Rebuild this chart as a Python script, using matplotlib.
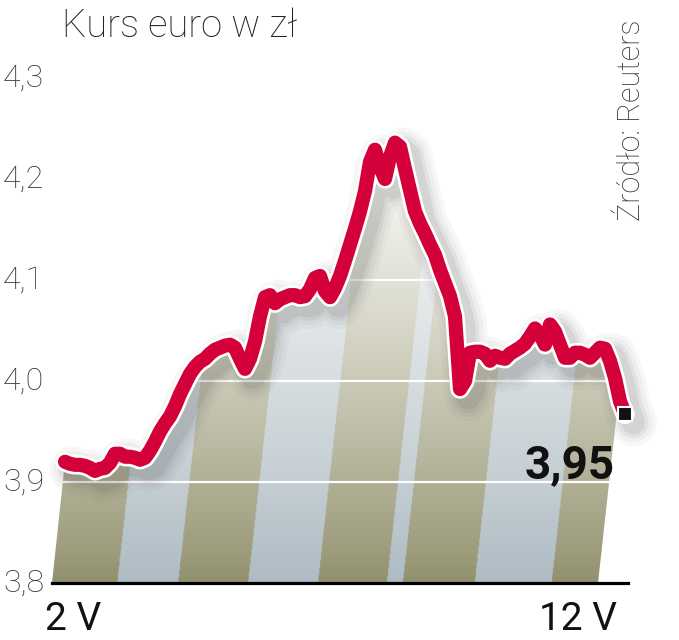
import numpy as np
import matplotlib
matplotlib.use("Agg")
import matplotlib.pyplot as plt
import matplotlib.patheffects as pe
import matplotlib.transforms as mtransforms
from matplotlib.patches import Polygon

# dane: kurs EUR/PLN, kolejne notowania od 2 V do 12 V
kurs = [3.920, 3.918, 3.917, 3.917, 3.916, 3.914, 3.911, 3.913, 3.914, 3.919,
        3.928, 3.928, 3.925, 3.925, 3.924, 3.922, 3.924, 3.931, 3.940, 3.950,
        3.958, 3.965, 3.975, 3.987, 3.997, 4.007, 4.014, 4.019, 4.022, 4.027,
        4.031, 4.033, 4.035, 4.036, 4.033, 4.022, 4.012, 4.022, 4.039, 4.064,
        4.083, 4.085, 4.077, 4.081, 4.083, 4.085, 4.085, 4.083, 4.084, 4.091,
        4.102, 4.104, 4.089, 4.083, 4.092, 4.104, 4.119, 4.135, 4.151, 4.168,
        4.188, 4.217, 4.229, 4.212, 4.200, 4.222, 4.236, 4.232, 4.210, 4.189,
        4.168, 4.156, 4.146, 4.135, 4.125, 4.110, 4.097, 4.084, 4.064, 3.992,
        4.000, 4.028, 4.029, 4.029, 4.027, 4.020, 4.025, 4.023, 4.022, 4.027,
        4.030, 4.033, 4.037, 4.044, 4.052, 4.046, 4.036, 4.056, 4.049, 4.036,
        4.023, 4.023, 4.028, 4.028, 4.026, 4.023, 4.028, 4.033, 4.032, 4.020,
        4.003, 3.980, 3.967]
ostatni = "3,95"
y_ticks = [3.8, 3.9, 4.0, 4.1, 4.2, 4.3]
y_labels = ["3,8", "3,9", "4,0", "4,1", "4,2", "4,3"]
x_labels = ["2 V", "12 V"]

plt.rcParams['font.family'] = ['Roboto', 'DejaVu Sans']

W, H = 679, 640
fig = plt.figure(figsize=(W / 100, H / 100), dpi=100)
ax = fig.add_axes([52 / W, 1 - 583 / H, (628 - 52) / W, (583 - 78) / H])
ax.set_xlim(-2.6, 112.6)
ax.set_ylim(3.8, 4.3)
ax.axis("off")

x = np.arange(len(kurs))
y = np.array(kurs)

# slanted stripes under the curve
slant = 22.3                      # index units per 1.0 of value
bounds = np.array([-2.6, 10.4, 22.6, 36.6, 50.6, 64.4, 67.6, 82.0, 97.4, 106.6])
olive = np.array([145, 144, 108]) / 255
blue = np.array([172, 186, 194]) / 255
white = np.array([252, 252, 250]) / 255

gx = np.linspace(-3, 113, 700)
gy = np.linspace(3.8, 4.3, 500)
X, Y = np.meshgrid(gx, gy)
X0 = X - slant * (Y - 3.8)
idx = np.clip(np.searchsorted(bounds, X0) - 1, 0, len(bounds) - 2)
base = np.where((idx % 2 == 0)[..., None], olive, blue)
t = np.clip((Y - 3.8) / 0.42, 0, 1)[..., None] ** 0.85
img = base * (1 - t) + white * t
im = ax.imshow(img, extent=(gx[0], gx[-1], gy[0], gy[-1]), origin="lower",
               aspect="auto", zorder=1, interpolation="bilinear")

right_edge = lambda v: bounds[-1] + slant * (v - 3.8)
keep = x <= right_edge(y)
poly_pts = [(bounds[0], 3.8)]
poly_pts += list(zip(x[keep], y[keep]))
last_v = y[keep][-1]
poly_pts += [(right_edge(last_v), last_v), (bounds[-1], 3.8)]
clip = Polygon(poly_pts, closed=True, facecolor="none", edgecolor="none")
ax.add_patch(clip)
im.set_clip_path(clip)

# white grid lines
for v in y_ticks[1:-1]:
    ax.axhline(v, color="white", lw=1.6, zorder=2)

# baseline
ax.axhline(3.8, color="black", lw=2.3, zorder=3, clip_on=False)

# line with blurred shadow and white halo
effects = []
for lw_, a in [(34, 0.04), (28, 0.05), (22, 0.07), (17, 0.09)]:
    effects.append(pe.SimpleLineShadow(offset=(6, -6), shadow_color="#4a4a4a",
                                       alpha=a, linewidth=lw_))
effects += [pe.Stroke(linewidth=14, foreground="white"), pe.Normal()]
ax.plot(x, y, color="#d4003a", lw=10.2, solid_capstyle="round",
        solid_joinstyle="round", zorder=5, path_effects=effects, clip_on=False)
ax.plot(x[-1], y[-1], marker="s", ms=10, color="#111111", mec="white",
        mew=1.5, zorder=6, clip_on=False)

# y labels at the left edge of the figure
trans = mtransforms.blended_transform_factory(fig.transFigure, ax.transData)
for v, lab in zip(y_ticks, y_labels):
    ax.text(3 / W, v, lab, transform=trans, ha="left", va="center",
            fontsize=23, fontweight="light", color="#333333", clip_on=False)

fig.text(45 / W, 1 - 630 / H, x_labels[0], ha="left", va="baseline",
         fontsize=28, color="#111111")
fig.text(617 / W, 1 - 630 / H, x_labels[1], ha="right", va="baseline",
         fontsize=28, color="#111111")

fig.text(615 / W, 1 - 478 / H, ostatni, ha="right", va="baseline",
         fontsize=33, fontweight="bold", color="#111111")

fig.text(62 / W, 1 - 37 / H, "Kurs euro w zł", ha="left", va="baseline",
         fontsize=27.5, fontweight="light", color="#222222")
fig.text(632 / W, 1 - 120 / H, "Źródło: Reuters", rotation=90,
         ha="center", va="center", fontsize=22, fontweight="light",
         color="#333333")

fig.savefig("out.png", dpi=100)
